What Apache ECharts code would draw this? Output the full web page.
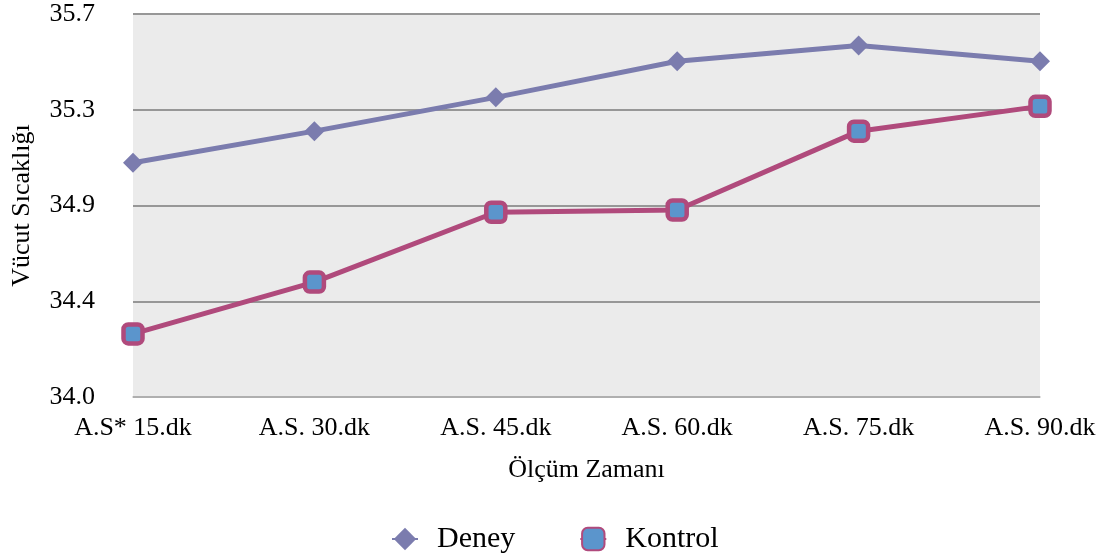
<!DOCTYPE html>
<html>
<head>
<meta charset="utf-8">
<script src="https://cdn.jsdelivr.net/npm/echarts@6/dist/echarts.min.js"></script>
<style>html,body{margin:0;padding:0;background:#fff}#c{width:1111px;height:557px}</style>
</head>
<body>
<div id="c"></div>
<script>
const categories = ['A.S* 15.dk', 'A.S. 30.dk', 'A.S. 45.dk', 'A.S. 60.dk', 'A.S. 75.dk', 'A.S. 90.dk'];
const deney = [35.04, 35.18, 35.33, 35.49, 35.56, 35.49];
const kontrol = [34.28, 34.51, 34.82, 34.83, 35.18, 35.29];
const seriesNames = ['Deney', 'Kontrol'];
const yAxisName = 'Vücut Sıcaklığı';
const xAxisName = 'Ölçüm Zamanı';

const FONT = '"Liberation Serif", "Times New Roman", serif';
const chart = echarts.init(document.getElementById('c'));
chart.setOption({
  animation: false,
  textStyle: { fontFamily: FONT },
  grid: { left: 133, right: 71, top: 14, bottom: 160, backgroundColor: '#ebebeb', show: true, borderWidth: 0 },
  legend: {
    bottom: -2, left: 386, itemWidth: 26, itemHeight: 28, itemGap: 64,
    textStyle: { fontFamily: FONT, fontSize: 30, color: '#000', padding: [0, 0, 0, 14] },
    data: seriesNames
  },
  xAxis: {
    type: 'category', data: categories, boundaryGap: false,
    axisLine: { lineStyle: { color: '#b8b8b8', width: 1.5 } },
    axisTick: { show: false },
    axisLabel: { fontFamily: FONT, fontSize: 26, color: '#000', margin: 18 },
    name: xAxisName, nameLocation: 'middle', nameGap: 60,
    nameTextStyle: { fontFamily: FONT, fontSize: 26, color: '#000' }
  },
  yAxis: {
    type: 'value', min: 34, max: 35.7, interval: 0.425,
    axisLine: { show: false }, axisTick: { show: false },
    splitLine: { lineStyle: { color: '#979797', width: 2 } },
    axisLabel: { fontFamily: FONT, fontSize: 26, color: '#000', margin: 38,
      formatter: v => v.toFixed(1) },
    name: yAxisName, nameLocation: 'middle', nameGap: 98, nameRotate: 90,
    nameTextStyle: { fontFamily: FONT, fontSize: 26, color: '#000' }
  },
  series: [
    {
      name: seriesNames[0], type: 'line', data: deney,
      symbol: 'diamond', symbolSize: [20, 20],
      lineStyle: { color: '#7b7cae', width: 5 },
      itemStyle: { color: '#7b7cae' }
    },
    {
      name: seriesNames[1], type: 'line', data: kontrol,
      symbol: 'roundRect', symbolSize: 19,
      lineStyle: { color: '#b04a7c', width: 5 },
      itemStyle: { color: '#5b95cc', borderColor: '#b04a7c', borderWidth: 4.5 }
    }
  ]
});
</script>
</body>
</html>
